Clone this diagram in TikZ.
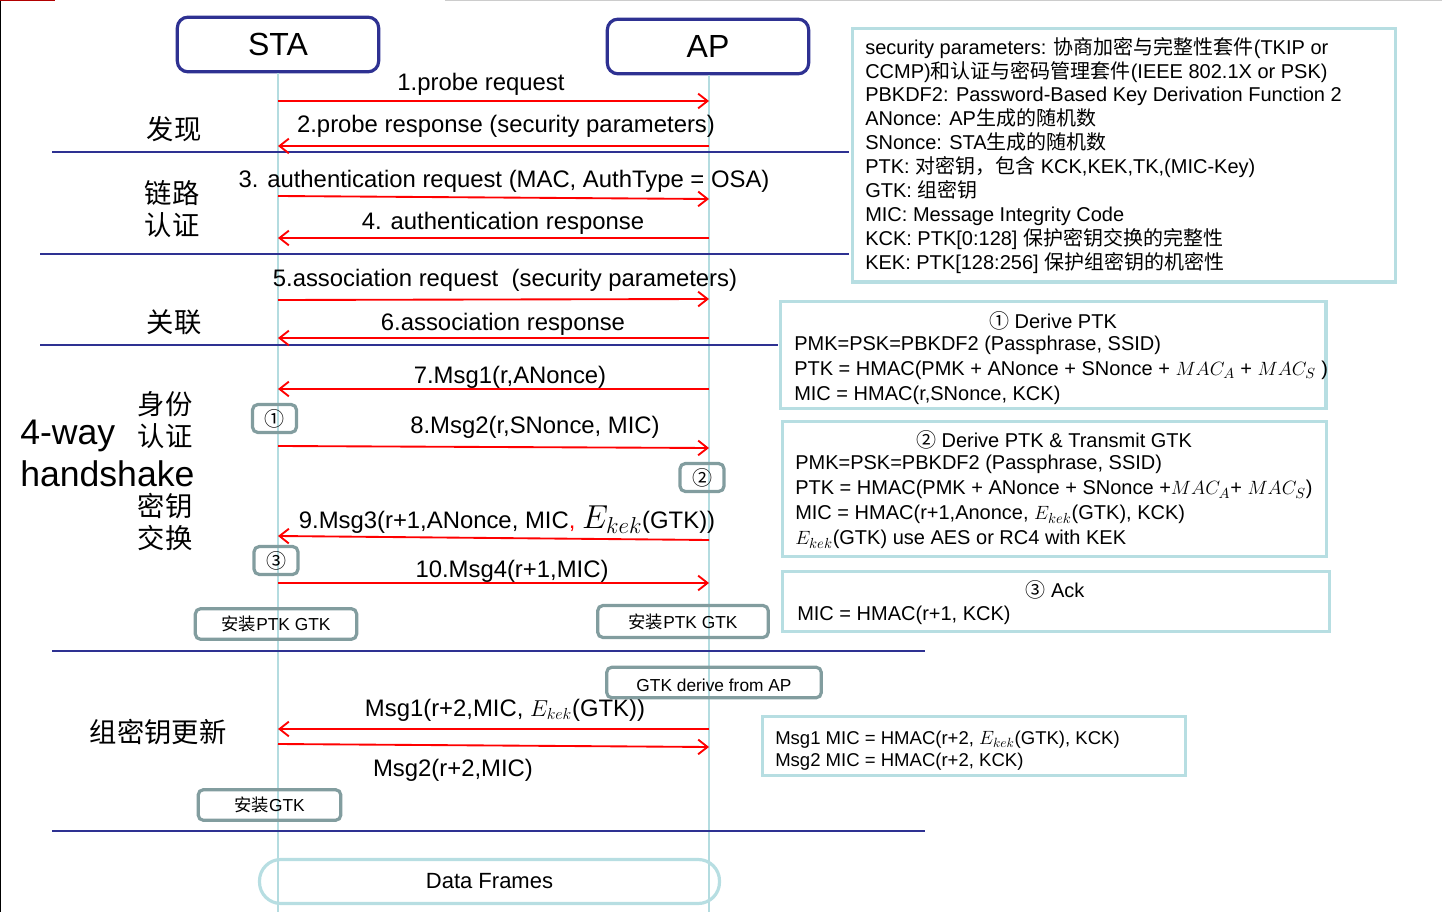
\documentclass[tikz,border=0pt]{standalone}
\usepackage{fontspec}
\setmainfont{Liberation Sans}
\newfontfamily\cjk{Noto Sans CJK SC}
\usetikzlibrary{positioning}
\usetikzlibrary{arrows.meta}
\definecolor{lineblue}{HTML}{2E3192}
\definecolor{lifeblue}{HTML}{B4DCE0}
\definecolor{infoteal}{HTML}{B7DEE2}
\definecolor{markgray}{HTML}{829D9F}
\newcommand{\zh}[1]{{\cjk #1}}
\newcommand{\infomath}[1]{{\fontsize{15.5}{18}\selectfont$#1$}}

\begin{document}
\begin{tikzpicture}[x=0.75pt,y=-0.75pt,>={Straight Barb[length=7pt,width=11pt]},
	party node/.style={draw=lineblue,line width=2.4pt,rounded corners=8pt,minimum width=151pt,
		minimum height=41pt,font=\fontsize{24}{28}\selectfont},
	life/.style={draw=lifeblue,line width=1.1pt},
	sep line/.style={draw=lineblue,line width=1.5pt},
	msg/.style={draw,->,red,line width=1.4pt},
	msg label/.style={font=\fontsize{17.9}{21}\selectfont,inner sep=0pt},
	phase label/.style={font=\cjk\fontsize{20.5}{24.5}\selectfont,align=center,inner sep=0pt},
	mark node/.style={draw=markgray,line width=2.4pt,rounded corners=4pt,
		font=\fontsize{13}{15}\selectfont,inner sep=0pt},
	info node/.style={draw=infoteal,line width=2.4pt,inner sep=0pt,anchor=north west},
	info text/.style={font=\fontsize{15}{18.5}\selectfont,align=left,inner sep=0pt,anchor=north west}]
	
	\useasboundingbox (0,0) rectangle (1442,912);
	\draw[black,line width=1pt] (0.5,0) -- (0.5,912);
	\draw[red!70!black,line width=1pt] (0,0.5) -- (55,0.5);
	\draw[black!20,line width=1pt] (445,0.5) -- (1442,0.5);
	
	% STA and AP with their lifelines
	\node[party node] (STA) at (278,44.5) {STA};
	\node[party node] (AP)  at (708,46.5) {AP};
	\coordinate (STA end) at (278,912);
	\coordinate (AP end)  at (709,912);
	\draw[life] (STA.south) -- (STA end);
	\draw[life] (AP.south -| AP end) -- (AP end);
	
	% phase separators
	\draw[sep line] (52,152) -- (849,152);
	\draw[sep line] (40,254) -- (849,254);
	\draw[sep line] (40,345) -- (778,345);
	\draw[sep line] (52,651) -- (925,651);
	\draw[sep line] (52,831) -- (925,831);
	
	% phase labels
	\node[phase label] (find)   at (174,129) {发现};
	\node[phase label] (auth)   at (172,209) {链路\\认证};
	\node[phase label] (assoc)  at (174,322) {关联};
	\node[font=\fontsize{26.7}{31.5}\selectfont,align=left,inner sep=0pt,anchor=west] (hs) at (20,453) {4-way\\handshake};
	\node[phase label] (idauth) at (165,420) {身份\\认证};
	\node[phase label] (keyex)  at (165,522) {密钥\\交换};
	\node[phase label] (gkey)   at (158,732) {组密钥更新};
	
	% end points of the messages on the lifelines
	\foreach \n/\ys/\ya in {1/101/101,2/146/146,3/196/199,4/238/238,5/300/299,6/338/338,
		7/389/389,8/446/448,9/536/540,10/583/583,11/729/729,12/744/747}{
		\coordinate (s\n) at (278,\ys);
		\coordinate (a\n) at (709,\ya);
	}
	
	\path[every edge/.style={msg}]
	(s1) edge (a1)
	(a2) edge (s2)
	(s3) edge (a3)
	(a4) edge (s4)
	(s5) edge (a5)
	(a6) edge (s6)
	(a7) edge (s7)
	(s8) edge (a8)
	(a9) edge (s9)
	(s10) edge (a10)
	(a11) edge (s11)
	(s12) edge (a12);
	
	% message labels
	\node[msg label] (l1)  at (481,84)  {1.probe request};
	\node[msg label] (l2)  at (506,126) {2.probe response (security parameters)};
	\node[msg label] (l3)  at (504,181) {3. authentication request (MAC, AuthType = OSA)};
	\node[msg label] (l4)  at (503,223) {4. authentication response};
	\node[msg label] (l5)  at (505,280) {5.association request\ \ (security parameters)};
	\node[msg label] (l6)  at (503,324) {6.association response};
	\node[msg label] (l7)  at (510,377) {7.Msg1(r,ANonce)};
	\node[msg label] (l8)  at (535,427) {8.Msg2(r,SNonce, MIC)};
	\node[msg label] (l9)  at (507,520) {9.Msg3(r+1,ANonce, MIC{\color{red},} {\fontsize{24}{26}\selectfont$E_{kek}$}(GTK))};
	\node[msg label] (l10) at (512,571) {10.Msg4(r+1,MIC)};
	\node[msg label] (l11) at (505,710) {Msg1(r+2,MIC, $E_{kek}$(GTK))};
	\node[msg label] (l12) at (453,770) {Msg2(r+2,MIC)};
	
	% marks on the lifelines
	\node[mark node,minimum width=33pt,minimum height=21pt,font=\fontsize{15}{15}\selectfont] (m1) at (274.5,418.5) {\zh{①}};
	\node[mark node,minimum width=33pt,minimum height=21pt,font=\fontsize{15}{15}\selectfont] (m2) at (702,477.5) {\zh{②}};
	\node[mark node,minimum width=33pt,minimum height=21pt,font=\fontsize{15}{15}\selectfont] (m3) at (276,560.5) {\zh{③}};
	\node[mark node,minimum width=121pt,minimum height=23pt] (inst sta) at (276,624) {\zh{安装}PTK GTK};
	\node[mark node,minimum width=128pt,minimum height=24pt] (inst ap)  at (683,621.5) {\zh{安装}PTK GTK};
	\node[mark node,minimum width=161pt,minimum height=23pt,text depth=0pt,text height=14pt] (gtk ap) at (714,682.5) {GTK derive from AP};
	\node[mark node,minimum width=107pt,minimum height=23pt] (inst gtk) at (269.5,805) {\zh{安装}GTK};
	
	% info boxes
	\node[info node,minimum width=407pt,minimum height=190pt] (sec)  at (851,27)  {};
	\node[info node,minimum width=409pt,minimum height=80pt]  (ptk1) at (779,300) {};
	\node[info node,minimum width=408pt,minimum height=101pt] (ptk2) at (781,420) {};
	\node[info node,minimum width=410pt,minimum height=45pt]  (ack)  at (781,570) {};
	\node[info node,minimum width=317pt,minimum height=44pt]  (gmsg) at (761,715) {};
	
	\node[info text,font=\fontsize{15}{17.9}\selectfont] (sec text) at (865,37) {%
		security parameters: \zh{协商加密与完整性套件}(TKIP or\\
		CCMP)\zh{和认证与密码管理套件}(IEEE 802.1X or PSK)\\
		PBKDF2: Password-Based Key Derivation Function 2\\
		ANonce: AP\zh{生成的随机数}\\
		SNonce: STA\zh{生成的随机数}\\
		PTK: \zh{对密钥，包含} KCK,KEK,TK,(MIC-Key)\\
		GTK: \zh{组密钥}\\
		MIC: Message Integrity Code\\
		KCK: PTK[0:128] \zh{保护密钥交换的完整性}\\
		KEK: PTK[128:256] \zh{保护组密钥的机密性}};
	
	\node[inner sep=0pt,font=\fontsize{15}{18}\selectfont] (ptk1 title) at (1053,321) {\zh{①} Derive PTK};
	\node[info text] (ptk1 text) at (794,336) {%
		PMK=PSK=PBKDF2 (Passphrase, SSID)\\
		PTK = HMAC(PMK + ANonce + SNonce + \infomath{MAC_A} + \infomath{MAC_S} )\\
		MIC = HMAC(r,SNonce, KCK)};
	
	\node[inner sep=0pt,font=\fontsize{15}{18}\selectfont] (ptk2 title) at (1054,440) {\zh{②} Derive PTK \& Transmit GTK};
	\node[info text,font=\fontsize{15}{18.75}\selectfont] (ptk2 text) at (795,455) {%
		PMK=PSK=PBKDF2 (Passphrase, SSID)\\
		PTK = HMAC(PMK + ANonce + SNonce +\infomath{MAC_A}+ \infomath{MAC_S})\\
		MIC = HMAC(r+1,Anonce, \infomath{E_{kek}}(GTK), KCK)\\
		\infomath{E_{kek}}(GTK) use AES or RC4 with KEK};
	
	\node[inner sep=0pt,font=\fontsize{15}{18}\selectfont] (ack title) at (1055,590) {\zh{③} Ack};
	\node[info text] (ack text) at (797,606) {MIC = HMAC(r+1, KCK)};
	
	\node[info text,font=\fontsize{13.9}{16.5}\selectfont] (gmsg text) at (775,731) {%
		Msg1 MIC = HMAC(r+2, $E_{kek}$(GTK), KCK)\\
		Msg2 MIC = HMAC(r+2, KCK)};
	
	% data frames
	\node[draw=infoteal,line width=2.4pt,rounded corners=16pt,minimum width=345pt,minimum height=33pt,
		font=\fontsize{16.5}{20}\selectfont] (data) at (489.5,881.5) {Data Frames};
\end{tikzpicture}
\end{document}
